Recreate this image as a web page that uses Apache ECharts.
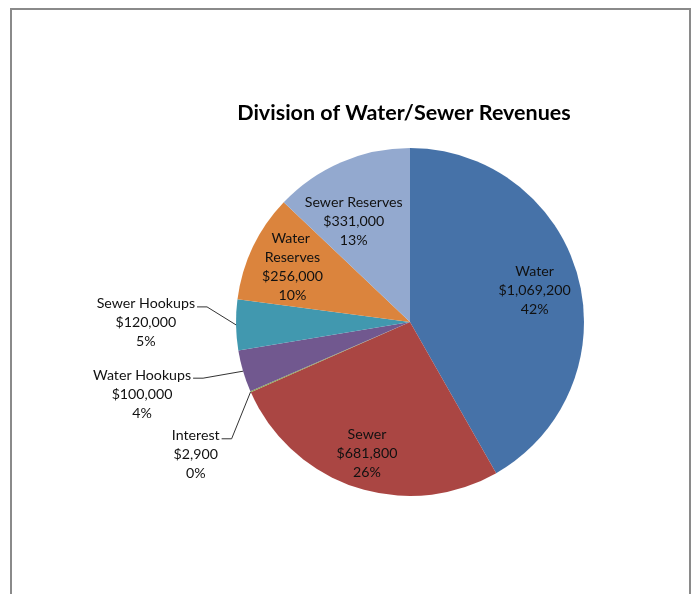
<!DOCTYPE html>
<html>
<head>
<meta charset="utf-8">
<script src="https://cdn.jsdelivr.net/npm/echarts@6/dist/echarts.min.js"></script>
<style>
  html, body { margin: 0; padding: 0; background: #fff; }
  #chart { width: 696px; height: 594px; }
</style>
</head>
<body>
<div id="chart"></div>
<script>
// Revenue sources, in drawing order (clockwise from 12 o'clock)
const categories = ['Water', 'Sewer', 'Interest', 'Water Hookups', 'Sewer Hookups', 'Water Reserves', 'Sewer Reserves'];
const revenues = [1069200, 681800, 2900, 100000, 120000, 256000, 331000];
const sliceColors = ['#4672A8', '#AA4643', '#89A54E', '#71588F', '#4198AF', '#DB843D', '#93A9CF'];
const chartTitle = 'Division of Water/Sewer Revenues';

// Pie geometry
const CX = 410, CY = 322, R = 174;
const LINE_H = 19;
const FONT = 'Lato';

// Where each slice's label goes: inside at a fraction of the radius,
// or outside with a bent leader line (bend offset from the rim point).
const labelPlacement = [
  { inside: true, r: 0.741, nudge: [0, 1] },
  { inside: true, r: 0.791, nudge: [0, 1] },
  { bend: [-19, 47] },
  { bend: [-40, 7] },
  { bend: [-29, -18] },
  { inside: true, r: 0.748, wrap: 66, nudge: [0, 1] },
  { inside: true, r: 0.644, nudge: [-12, 2] }
];

const total = revenues.reduce((a, b) => a + b, 0);
const midAngles = [];
let acc = 0;
revenues.forEach(v => { midAngles.push((acc + v / 2) / total * 2 * Math.PI); acc += v; });
function polar(angle, r) { return [CX + r * Math.sin(angle), CY - r * Math.cos(angle)]; }

const money = v => '$' + v.toLocaleString('en-US');

const pieData = categories.map((name, i) => {
  const pl = labelPlacement[i];
  const item = { name, value: revenues[i], itemStyle: { color: sliceColors[i] } };
  if (pl.inside) {
    item.label = { position: 'inside' };
    if (pl.wrap) { item.label.width = pl.wrap; item.label.overflow = 'break'; }
    item.labelLine = { show: false };
  }
  return item;
});

const chart = echarts.init(document.getElementById('chart'), null, { renderer: 'canvas' });
chart.setOption({
  backgroundColor: '#ffffff',
  animation: false,
  title: {
    text: chartTitle,
    left: 399,
    top: 97,
    textAlign: 'center',
    textStyle: { fontFamily: FONT, fontWeight: 'bold', fontSize: 21.5, color: '#000' }
  },
  graphic: [{
    type: 'rect',
    shape: { x: 11, y: 9, width: 679, height: 620 },
    style: { fill: 'none', stroke: '#8a8a8a', lineWidth: 2 },
    silent: true
  }],
  series: [{
    type: 'pie',
    center: [CX, CY],
    radius: R,
    startAngle: 90,
    clockwise: true,
    percentPrecision: 0,
    avoidLabelOverlap: false,
    itemStyle: { borderWidth: 0 },
    label: {
      show: true,
      position: 'outside',
      fontFamily: FONT,
      fontSize: 14.2,
      lineHeight: LINE_H,
      color: '#111',
      align: 'center',
      formatter: p => p.name + '\n' + money(p.value) + '\n' + p.percent + '%'
    },
    labelLine: {
      show: true,
      lineStyle: { color: '#333', width: 1 }
    },
    labelLayout: params => {
      const i = params.dataIndex;
      const pl = labelPlacement[i];
      const a = midAngles[i];
      if (pl.inside) {
        const p = polar(a, pl.r * R);
        const n = pl.nudge || [0, 0];
        return { x: p[0] + n[0], y: p[1] + n[1], align: 'center', verticalAlign: 'middle' };
      }
      const p0 = polar(a, R);
      const p1 = [p0[0] + pl.bend[0], p0[1] + pl.bend[1]];
      const p2 = [p1[0] - 10, p1[1]];
      const w = params.labelRect.width;
      return {
        x: p2[0] - 2 - w / 2,
        y: p2[1] - 3 - LINE_H / 2,
        align: 'center',
        verticalAlign: 'top',
        labelLinePoints: [p0, p1, p2]
      };
    },
    data: pieData
  }]
});
</script>
</body>
</html>
